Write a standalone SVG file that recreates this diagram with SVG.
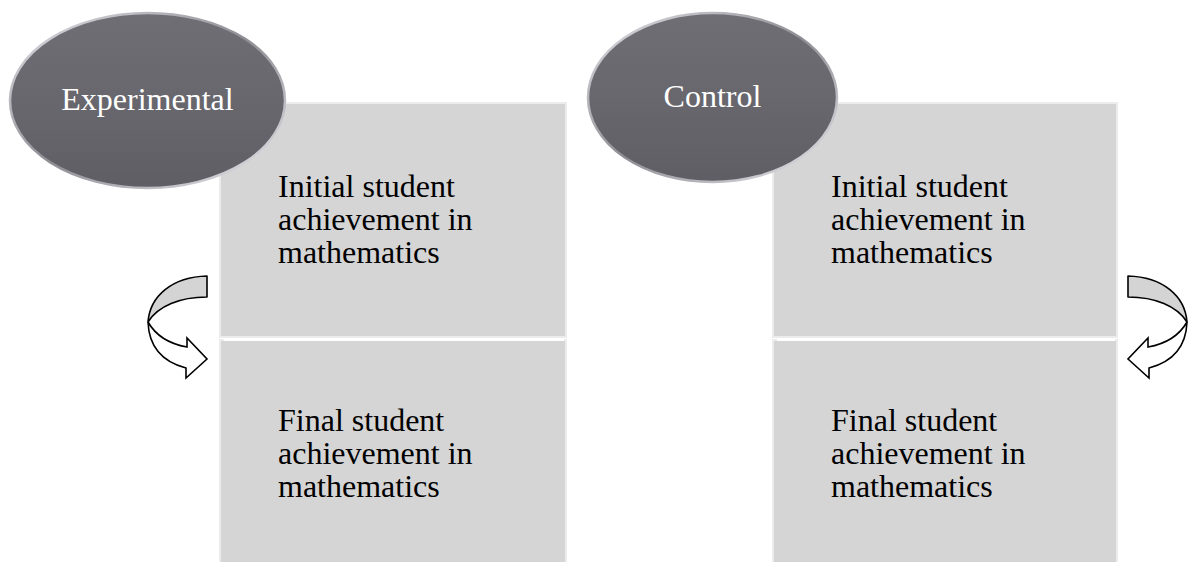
<svg xmlns="http://www.w3.org/2000/svg" width="1188" height="562" viewBox="0 0 1188 562">
<defs>
<linearGradient id="ellFill" x1="0" y1="0" x2="0" y2="1">
<stop offset="0" stop-color="#6f6e75"/>
<stop offset="0.5" stop-color="#68676e"/>
<stop offset="1" stop-color="#5f5e65"/>
</linearGradient>
<linearGradient id="ellRim" x1="0" y1="0" x2="1" y2="1">
<stop offset="0" stop-color="#e2e2e8"/>
<stop offset="0.5" stop-color="#8e8d94"/>
<stop offset="1" stop-color="#e8e8ee"/>
</linearGradient>
<style>
.box{fill:#d5d5d5;stroke:#ececec;stroke-width:2}
.hl{stroke:#ffffff;stroke-width:2;fill:none}
.ell{fill:url(#ellFill);stroke:url(#ellRim);stroke-width:2.5}
.et{font-family:"Liberation Serif",serif;font-size:32px;fill:#ffffff;text-anchor:middle}
.bt{font-family:"Liberation Serif",serif;font-size:32px;fill:#000000}
.arrBack{fill:#d4d4d4;stroke:#000;stroke-width:1.6;stroke-linejoin:round}
.arrFront{fill:#ffffff;stroke:#000;stroke-width:1.6;stroke-linejoin:miter}
</style>
<g id="curvedArrow">
<path class="arrFront" d="M148,322 C149,348 163,362 186,368 L186,378 L207,359 L187,338 L187,347 C170,344 156,336 148,322 Z"/>
<path class="arrBack" d="M207,276 C172,277 150,296 148,322 C158,306 180,297 207,297 Z"/>
</g>
</defs>

<g id="box-exp-initial">
<rect class="box" x="220" y="103" width="346" height="234"/>
<text class="bt" x="278" y="197">Initial student</text>
<text class="bt" x="278" y="230">achievement in</text>
<text class="bt" x="278" y="263">mathematics</text>
</g>
<g id="box-exp-final">
<rect class="box" x="220" y="340" width="346" height="240"/>
<line class="hl" x1="224" y1="340" x2="564" y2="340"/>
<text class="bt" x="278" y="431">Final student</text>
<text class="bt" x="278" y="464">achievement in</text>
<text class="bt" x="278" y="497">mathematics</text>
</g>
<g id="box-ctl-initial">
<rect class="box" x="773" y="103" width="344" height="234"/>
<text class="bt" x="831" y="197">Initial student</text>
<text class="bt" x="831" y="230">achievement in</text>
<text class="bt" x="831" y="263">mathematics</text>
</g>
<g id="box-ctl-final">
<rect class="box" x="773" y="340" width="344" height="240"/>
<line class="hl" x1="777" y1="340" x2="1115" y2="340"/>
<text class="bt" x="831" y="431">Final student</text>
<text class="bt" x="831" y="464">achievement in</text>
<text class="bt" x="831" y="497">mathematics</text>
</g>

<g id="node-experimental">
<ellipse class="ell" cx="147.5" cy="100.5" rx="137.5" ry="87.5"/>
<text class="et" x="147.5" y="110">Experimental</text>
</g>
<g id="node-control">
<ellipse class="ell" cx="712.5" cy="97.5" rx="124.5" ry="84.5"/>
<text class="et" x="712.5" y="107">Control</text>
</g>

<g id="connectors">
<use href="#curvedArrow"/>
<use href="#curvedArrow" transform="translate(1335,0) scale(-1,1)"/>
</g>
</svg>
